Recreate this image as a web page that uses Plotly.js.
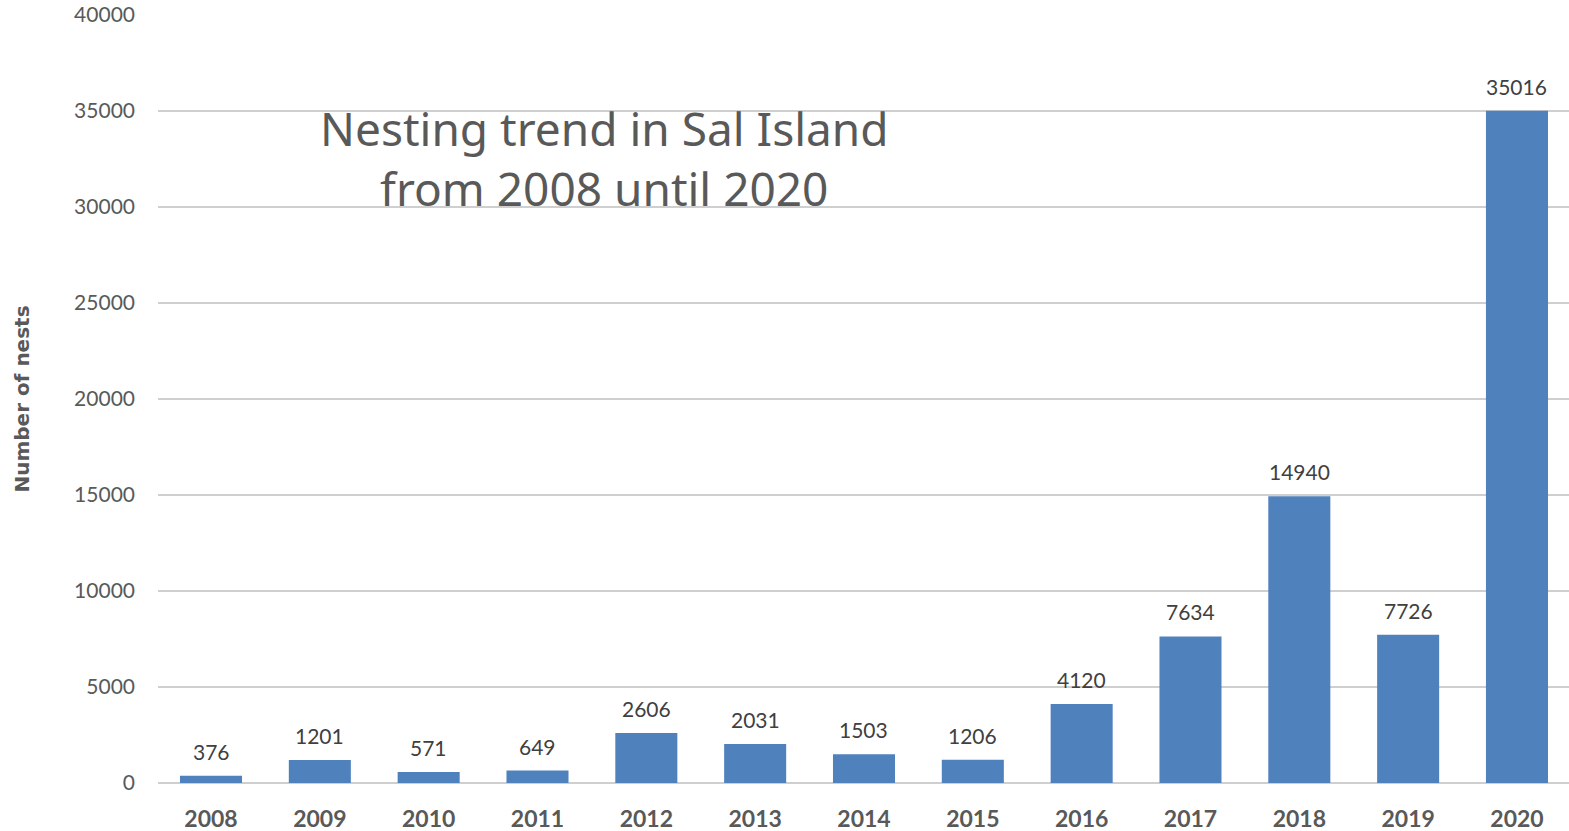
<!DOCTYPE html>
<html>
<head>
<meta charset="utf-8">
<script src="https://cdn.plot.ly/plotly-3.0.1.min.js"></script>
<style>html,body{margin:0;padding:0;background:#fff;}#chart{width:1569px;height:831px;}</style>
</head>
<body>
<div id="chart"></div>
<script>
const years = ["2008","2009","2010","2011","2012","2013","2014","2015","2016","2017","2018","2019","2020"];
const nests = [376, 1201, 571, 649, 2606, 2031, 1503, 1206, 4120, 7634, 14940, 7726, 35016];
const yTicks = [0, 5000, 10000, 15000, 20000, 25000, 30000, 35000, 40000];
const chartTitle = "Nesting trend in Sal Island<br>from 2008 until 2020";
const yTitle = "Number of nests";

const trace = {
  type: "bar",
  x: years,
  y: nests,
  marker: {color: "#4f81bd"},
  width: 0.57,
  hoverinfo: "x+y"
};

const labelAnns = years.map((yr, i) => ({
  x: i, y: nests[i], xref: "x", yref: "y",
  text: String(nests[i]), showarrow: false,
  xanchor: "center", yanchor: "bottom", yshift: 10,
  font: {family: "Lato, 'Open Sans', sans-serif", size: 21, color: "#404040"}
}));

labelAnns.push({
  xref: "paper", yref: "paper", x: (604-158)/1411, y: (783-158)/768,
  xanchor: "center", yanchor: "middle",
  text: chartTitle, showarrow: false, align: "center",
  font: {family: "'Noto Sans', sans-serif", size: 46, color: "#595959"}
});

const layout = {
  width: 1569, height: 831,
  margin: {l: 158, r: 0, t: 15, b: 48, pad: 0},
  paper_bgcolor: "#ffffff", plot_bgcolor: "#ffffff",
  showlegend: false,
  xaxis: {
    type: "category",
    range: [-0.487, 12.478],
    showgrid: false, zeroline: false, showline: false,
    ticks: "", ticklabelstandoff: 20,
    tickfont: {family: "Lato, 'Open Sans', sans-serif", size: 23, color: "#595959", weight: "bold"},
    fixedrange: true
  },
  yaxis: {
    range: [0, 40000],
    tickvals: yTicks,
    ticktext: yTicks.map(String),
    showgrid: true, gridcolor: "#cfcfcf", gridwidth: 2,
    zeroline: true, zerolinecolor: "#cfcfcf", zerolinewidth: 2,
    showline: false, ticks: "",
    ticklabelstandoff: 22,
    tickfont: {family: "Lato, 'Open Sans', sans-serif", size: 21, color: "#595959"},
    title: {text: yTitle, standoff: 39, font: {family: "'DejaVu Sans', sans-serif", size: 20, color: "#595959", weight: "bold"}},
    automargin: false,
    fixedrange: true
  },
  annotations: labelAnns
};

Plotly.newPlot("chart", [trace], layout, {displayModeBar: false, staticPlot: true});
</script>
</body>
</html>
